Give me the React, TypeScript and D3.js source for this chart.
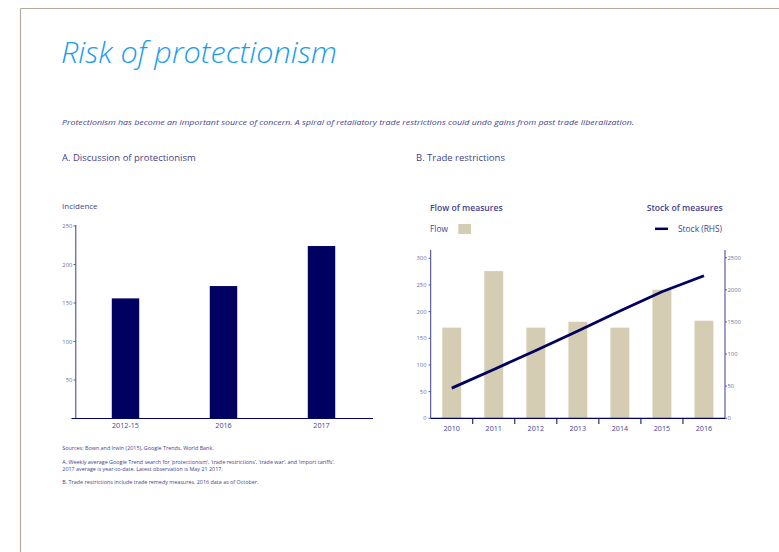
import React from "react";
import * as d3 from "d3";

// Panel A data
const incidenceCategories = ["2012-15", "2016", "2017"];
const incidenceValues = [156, 172, 224];
const incidenceTicks = [50, 100, 150, 200, 250];

// Panel B data
const years = ["2010", "2011", "2012", "2013", "2014", "2015", "2016"];
const flowValues = [170, 276, 170, 181, 170, 241, 183];
const stockValues = [470, 760, 1055, 1360, 1670, 1970, 2220];
const flowTicks = [0, 50, 100, 150, 200, 250, 300];
const stockTicks = [0, 500, 1000, 1500, 2000, 2500];
const stockTickLabels = ["0", "50", "100", "1500", "2000", "2500"];

const title = "Risk of protectionism";
const subtitle =
  "Protectionism has become an important source of concern. A spiral of retaliatory trade restrictions could undo gains from past trade liberalization.";
const footnotes = [
  "Sources: Bown and Irwin (2015), Google Trends, World Bank.",
  "A. Weekly average Google Trend search for \u2018protectionism\u2019, \u2018trade restrictions\u2019, \u2018trade war\u2019, and \u2018import tariffs\u2019.",
  "2017 average is year-to-date. Latest observation is May 21 2017.",
  "B. Trade restrictions include trade remedy measures. 2016 data as of October.",
];

const FONT = "'Open Sans', 'Noto Sans', sans-serif";
const TEXT = "#3f3f8f";
const TICK = "#6e6ea6";
const AXIS = "#3c3c8c";
const NAVY = "#000060";
const BEIGE = "#d5cdb3";

export default function App() {
  // Panel A scales
  const ax = d3
    .scaleBand<string>()
    .domain(incidenceCategories)
    .range([76.5, 370.5])
    .paddingInner(0.72)
    .paddingOuter(0.36);
  const ay = d3.scaleLinear().domain([0, 250]).range([418.5, 226]);

  // Panel B scales
  const bx = d3
    .scaleBand<string>()
    .domain(years)
    .range([430.7, 725])
    .paddingInner(0.55)
    .paddingOuter(0.275);
  const byL = d3.scaleLinear().domain([0, 300]).range([418.3, 258.3]);
  const byR = d3.scaleLinear().domain([0, 2500]).range([418.3, 257.7]);
  const line = d3
    .line<number>()
    .x((_, i) => (bx(years[i]) as number) + bx.bandwidth() / 2)
    .y((d) => byR(d));

  const bandEdges = years.slice(1).map((y) => (bx(y) as number) - (bx.step() - bx.bandwidth()) / 2);

  return (
    <svg
      width={779}
      height={552}
      style={{ position: "absolute", left: 0, top: 0, background: "#fff" }}
      fontFamily={FONT}
    >
      {/* frame */}
      <line x1={20.5} y1={8.5} x2={779} y2={8.5} stroke="#b3aba0" strokeWidth={1.2} />
      <line x1={20.5} y1={8.5} x2={20.5} y2={552} stroke="#b3aba0" strokeWidth={1.2} />

      <text x={61} y={63} fontSize={30} fontStyle="italic" fontWeight={300} fill="#1a9cf0" textLength={276} lengthAdjust="spacingAndGlyphs">
        {title}
      </text>
      <text x={62} y={125} fontSize={7.4} fontStyle="italic" fill={TEXT} textLength={572} lengthAdjust="spacingAndGlyphs">
        {subtitle}
      </text>

      <text x={62} y={160.5} fontSize={9.5} fill={TEXT}>
        A. Discussion of protectionism
      </text>
      <text x={416} y={160.5} fontSize={9.5} fill={TEXT}>
        B. Trade restrictions
      </text>

      {/* Panel A */}
      <text x={62} y={208.5} fontSize={8} fill={TEXT}>
        Incidence
      </text>
      {incidenceValues.map((v, i) => (
        <rect
          key={incidenceCategories[i]}
          x={ax(incidenceCategories[i])}
          y={ay(v)}
          width={ax.bandwidth()}
          height={ay(0) - ay(v)}
          fill={NAVY}
        />
      ))}
      <line x1={75.8} y1={ay(0)} x2={75.8} y2={225} stroke={AXIS} strokeWidth={1} />
      <line x1={71.5} y1={418.5} x2={373} y2={418.5} stroke={NAVY} strokeWidth={1.2} />
      {incidenceTicks.map((t) => (
        <g key={t}>
          <line x1={73.5} x2={75.8} y1={ay(t)} y2={ay(t)} stroke={AXIS} strokeWidth={0.8} />
          <text x={72.3} y={ay(t)} dy="0.35em" fontSize={5.8} textAnchor="end" fill={TICK}>
            {t}
          </text>
        </g>
      ))}
      {incidenceCategories.map((c) => (
        <text
          key={c}
          x={(ax(c) as number) + ax.bandwidth() / 2}
          y={427.5}
          fontSize={7.2}
          textAnchor="middle"
          fill={TEXT}
        >
          {c}
        </text>
      ))}

      {/* Panel B legend */}
      <text x={430} y={210.5} fontSize={8.6} fontWeight={600} fill={TEXT}>
        Flow of measures
      </text>
      <text x={722.7} y={210.5} fontSize={8.6} fontWeight={600} fill={TEXT} textAnchor="end">
        Stock of measures
      </text>
      <text x={430} y={232} fontSize={8.4} fill={TEXT}>
        Flow
      </text>
      <rect x={458.3} y={224} width={12.7} height={10} fill={BEIGE} />
      <line x1={655} x2={668} y1={228.8} y2={228.8} stroke={NAVY} strokeWidth={2.5} />
      <text x={678} y={232} fontSize={8.4} fill={TEXT}>
        Stock (RHS)
      </text>

      {/* Panel B bars */}
      {flowValues.map((v, i) => (
        <rect
          key={years[i]}
          x={bx(years[i])}
          y={byL(v)}
          width={bx.bandwidth()}
          height={byL(0) - byL(v)}
          fill={BEIGE}
        />
      ))}
      <path d={line(stockValues) || ""} fill="none" stroke={NAVY} strokeWidth={2.8} />

      {/* Panel B axes */}
      <line x1={430.7} y1={418.3} x2={430.7} y2={250} stroke={AXIS} strokeWidth={1} />
      <line x1={725} y1={418.3} x2={725} y2={250} stroke={AXIS} strokeWidth={1} />
      <line x1={430.7} y1={418.3} x2={725} y2={418.3} stroke={NAVY} strokeWidth={1.2} />
      {bandEdges.map((e, i) => (
        <line key={i} x1={e} x2={e} y1={418.3} y2={424} stroke={NAVY} strokeWidth={1} />
      ))}
      {flowTicks.map((t) => (
        <g key={t}>
          <line x1={428.5} x2={430.7} y1={byL(t)} y2={byL(t)} stroke={AXIS} strokeWidth={0.8} />
          <text x={426.5} y={byL(t)} dy="0.35em" fontSize={5.8} textAnchor="end" fill={TICK}>
            {t}
          </text>
        </g>
      ))}
      {stockTicks.map((t, i) => (
        <g key={t}>
          <line x1={725} x2={727} y1={byR(t)} y2={byR(t)} stroke={AXIS} strokeWidth={0.8} />
          <text x={727.5} y={byR(t)} dy="0.35em" fontSize={5.8} textAnchor="start" fill={TICK}>
            {stockTickLabels[i]}
          </text>
        </g>
      ))}
      {years.map((y) => (
        <text
          key={y}
          x={(bx(y) as number) + bx.bandwidth() / 2}
          y={431}
          fontSize={7.2}
          textAnchor="middle"
          fill={TEXT}
        >
          {y}
        </text>
      ))}

      {/* Footnotes */}
      <text x={62.3} y={450} fontSize={5.4} fill={TEXT}>
        {footnotes[0]}
      </text>
      <text x={62.3} y={464} fontSize={5.4} fill={TEXT}>
        {footnotes[1]}
      </text>
      <text x={62.3} y={471} fontSize={5.4} fill={TEXT}>
        {footnotes[2]}
      </text>
      <text x={62.3} y={484.3} fontSize={5.4} fill={TEXT}>
        {footnotes[3]}
      </text>
    </svg>
  );
}
